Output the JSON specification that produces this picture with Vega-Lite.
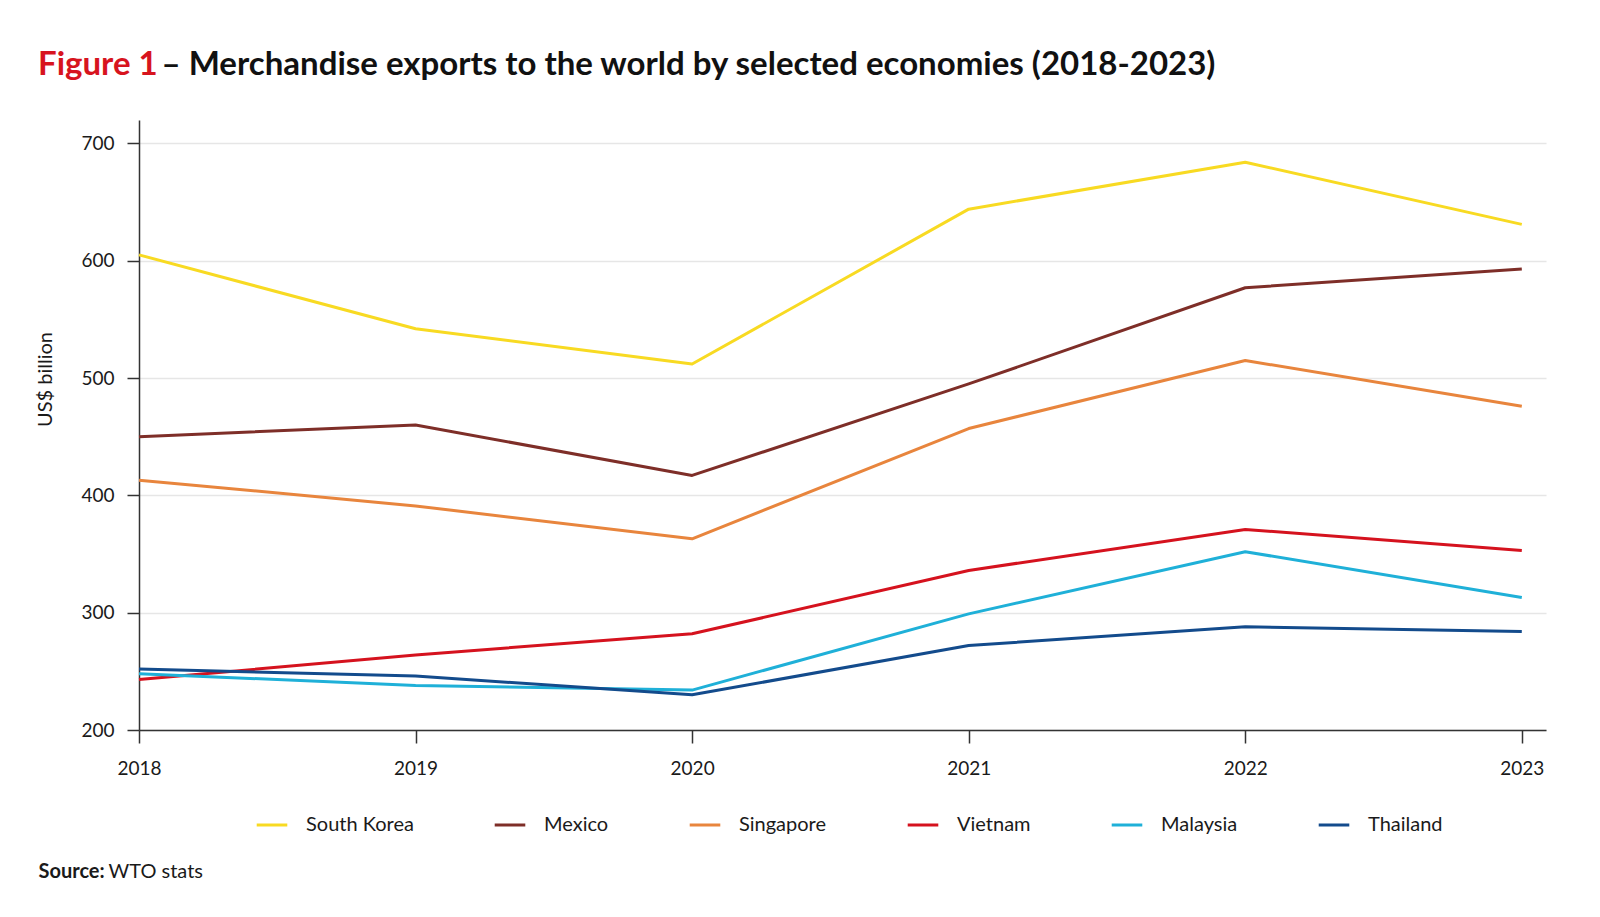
{
  "$schema": "https://vega.github.io/schema/vega-lite/v6.json",
  "description": "Merchandise exports to the world by selected economies, 2018-2023 (US$ billion).",
  "width": 1407,
  "height": 610,
  "autosize": {"type": "none"},
  "padding": {"left": 139, "top": 120, "right": 54, "bottom": 187},
  "background": "white",
  "title": {
    "text": "Figure 1",
    "color": "#d7141e",
    "font": "Lato",
    "fontSize": 33,
    "fontWeight": "bold",
    "anchor": "start",
    "frame": "group",
    "baseline": "alphabetic",
    "dx": -101,
    "dy": 64
  },
  "config": {
    "view": {"stroke": null},
    "font": "Lato",
    "axis": {
      "labelFont": "Lato",
      "titleFont": "Lato",
      "labelColor": "#1a1a1a",
      "titleColor": "#1a1a1a",
      "domainColor": "#333333",
      "tickColor": "#333333",
      "domainWidth": 1.5,
      "tickWidth": 1.5
    }
  },
  "data": {
    "values": [
      {"country": "South Korea", "year": 2018, "exports": 605},
      {"country": "South Korea", "year": 2019, "exports": 542},
      {"country": "South Korea", "year": 2020, "exports": 512},
      {"country": "South Korea", "year": 2021, "exports": 644},
      {"country": "South Korea", "year": 2022, "exports": 684},
      {"country": "South Korea", "year": 2023, "exports": 631},
      {"country": "Mexico", "year": 2018, "exports": 450},
      {"country": "Mexico", "year": 2019, "exports": 460},
      {"country": "Mexico", "year": 2020, "exports": 417},
      {"country": "Mexico", "year": 2021, "exports": 495},
      {"country": "Mexico", "year": 2022, "exports": 577},
      {"country": "Mexico", "year": 2023, "exports": 593},
      {"country": "Singapore", "year": 2018, "exports": 413},
      {"country": "Singapore", "year": 2019, "exports": 391},
      {"country": "Singapore", "year": 2020, "exports": 363},
      {"country": "Singapore", "year": 2021, "exports": 457},
      {"country": "Singapore", "year": 2022, "exports": 515},
      {"country": "Singapore", "year": 2023, "exports": 476},
      {"country": "Vietnam", "year": 2018, "exports": 243},
      {"country": "Vietnam", "year": 2019, "exports": 264},
      {"country": "Vietnam", "year": 2020, "exports": 282},
      {"country": "Vietnam", "year": 2021, "exports": 336},
      {"country": "Vietnam", "year": 2022, "exports": 371},
      {"country": "Vietnam", "year": 2023, "exports": 353},
      {"country": "Malaysia", "year": 2018, "exports": 248},
      {"country": "Malaysia", "year": 2019, "exports": 238},
      {"country": "Malaysia", "year": 2020, "exports": 234},
      {"country": "Malaysia", "year": 2021, "exports": 299},
      {"country": "Malaysia", "year": 2022, "exports": 352},
      {"country": "Malaysia", "year": 2023, "exports": 313},
      {"country": "Thailand", "year": 2018, "exports": 252},
      {"country": "Thailand", "year": 2019, "exports": 246},
      {"country": "Thailand", "year": 2020, "exports": 230},
      {"country": "Thailand", "year": 2021, "exports": 272},
      {"country": "Thailand", "year": 2022, "exports": 288},
      {"country": "Thailand", "year": 2023, "exports": 284}
    ]
  },
  "layer": [
    {
      "mark": {"type": "line", "strokeWidth": 3, "strokeJoin": "round"},
      "encoding": {
        "x": {
          "field": "year",
          "type": "quantitative",
          "scale": {"domain": [2018, 2023.0875], "nice": false, "zero": false},
          "axis": {
            "orient": "bottom",
            "values": [2018, 2019, 2020, 2021, 2022, 2023],
            "format": "d",
            "grid": false,
            "labelFlush": false,
            "labelFontSize": 19,
            "labelPadding": 16,
            "tickSize": 13,
            "title": "Source:",
            "titleFontSize": 20,
            "titleFontWeight": "bold",
            "titleAlign": "left",
            "titleBaseline": "alphabetic",
            "titleAnchor": "start",
            "titleX": -101,
            "titleY": 147
          }
        },
        "y": {
          "field": "exports",
          "type": "quantitative",
          "scale": {"domain": [200, 720], "nice": false, "zero": false},
          "axis": {
            "orient": "left",
            "values": [200, 300, 400, 500, 600, 700],
            "grid": true,
            "gridColor": "#e6e6e6",
            "gridWidth": 1.5,
            "labelFontSize": 19,
            "labelPadding": 13,
            "tickSize": 12,
            "title": "US$ billion",
            "titleFontSize": 20,
            "titleFontWeight": "normal",
            "titleAngle": -90,
            "titleAlign": "center",
            "titleBaseline": "middle",
            "titleX": -94,
            "titleY": 259
          }
        },
        "color": {
          "field": "country",
          "type": "nominal",
          "scale": {
            "domain": ["South Korea", "Mexico", "Singapore", "Vietnam", "Malaysia", "Thailand"],
            "range": ["#f8da22", "#7e2e28", "#e8853d", "#d5121e", "#1fb0d8", "#134b8c"]
          },
          "legend": {
            "orient": "none",
            "direction": "horizontal",
            "legendX": 116,
            "legendY": 688,
            "title": null,
            "symbolType": "stroke",
            "symbolSize": 936,
            "symbolStrokeWidth": 3,
            "labelFont": "Lato",
            "labelFontSize": 20,
            "labelColor": "#1a1a1a",
            "labelOffset": 17,
            "columnPadding": 74
          }
        }
      }
    },
    {
      "mark": {"type": "point", "opacity": 0},
      "encoding": {
        "x": {
          "field": "year",
          "type": "quantitative",
          "scale": {"domain": [2018, 2023.0875], "nice": false, "zero": false},
          "axis": {
            "orient": "top",
            "domain": false,
            "ticks": false,
            "labels": false,
            "grid": false,
            "title": "– Merchandise exports to the world by selected economies (2018-2023)",
            "titleFontSize": 33,
            "titleFontWeight": "bold",
            "titleColor": "#111111",
            "titleAlign": "left",
            "titleBaseline": "alphabetic",
            "titleAngle": 0,
            "titleX": 22,
            "titleY": -46
          }
        },
        "y": {
          "field": "exports",
          "type": "quantitative",
          "scale": {"domain": [200, 720], "nice": false, "zero": false},
          "axis": {
            "orient": "right",
            "domain": false,
            "ticks": false,
            "labels": false,
            "grid": false,
            "title": "WTO stats",
            "titleFontSize": 20,
            "titleFontWeight": "normal",
            "titleAngle": 0,
            "titleAlign": "left",
            "titleBaseline": "alphabetic",
            "titleX": -1438,
            "titleY": 757
          }
        },
        "tooltip": [
          {"field": "country", "type": "nominal"},
          {"field": "year", "type": "quantitative", "format": "d"},
          {"field": "exports", "type": "quantitative", "title": "US$ billion"}
        ]
      }
    }
  ],
  "resolve": {"axis": {"x": "independent", "y": "independent"}}
}
